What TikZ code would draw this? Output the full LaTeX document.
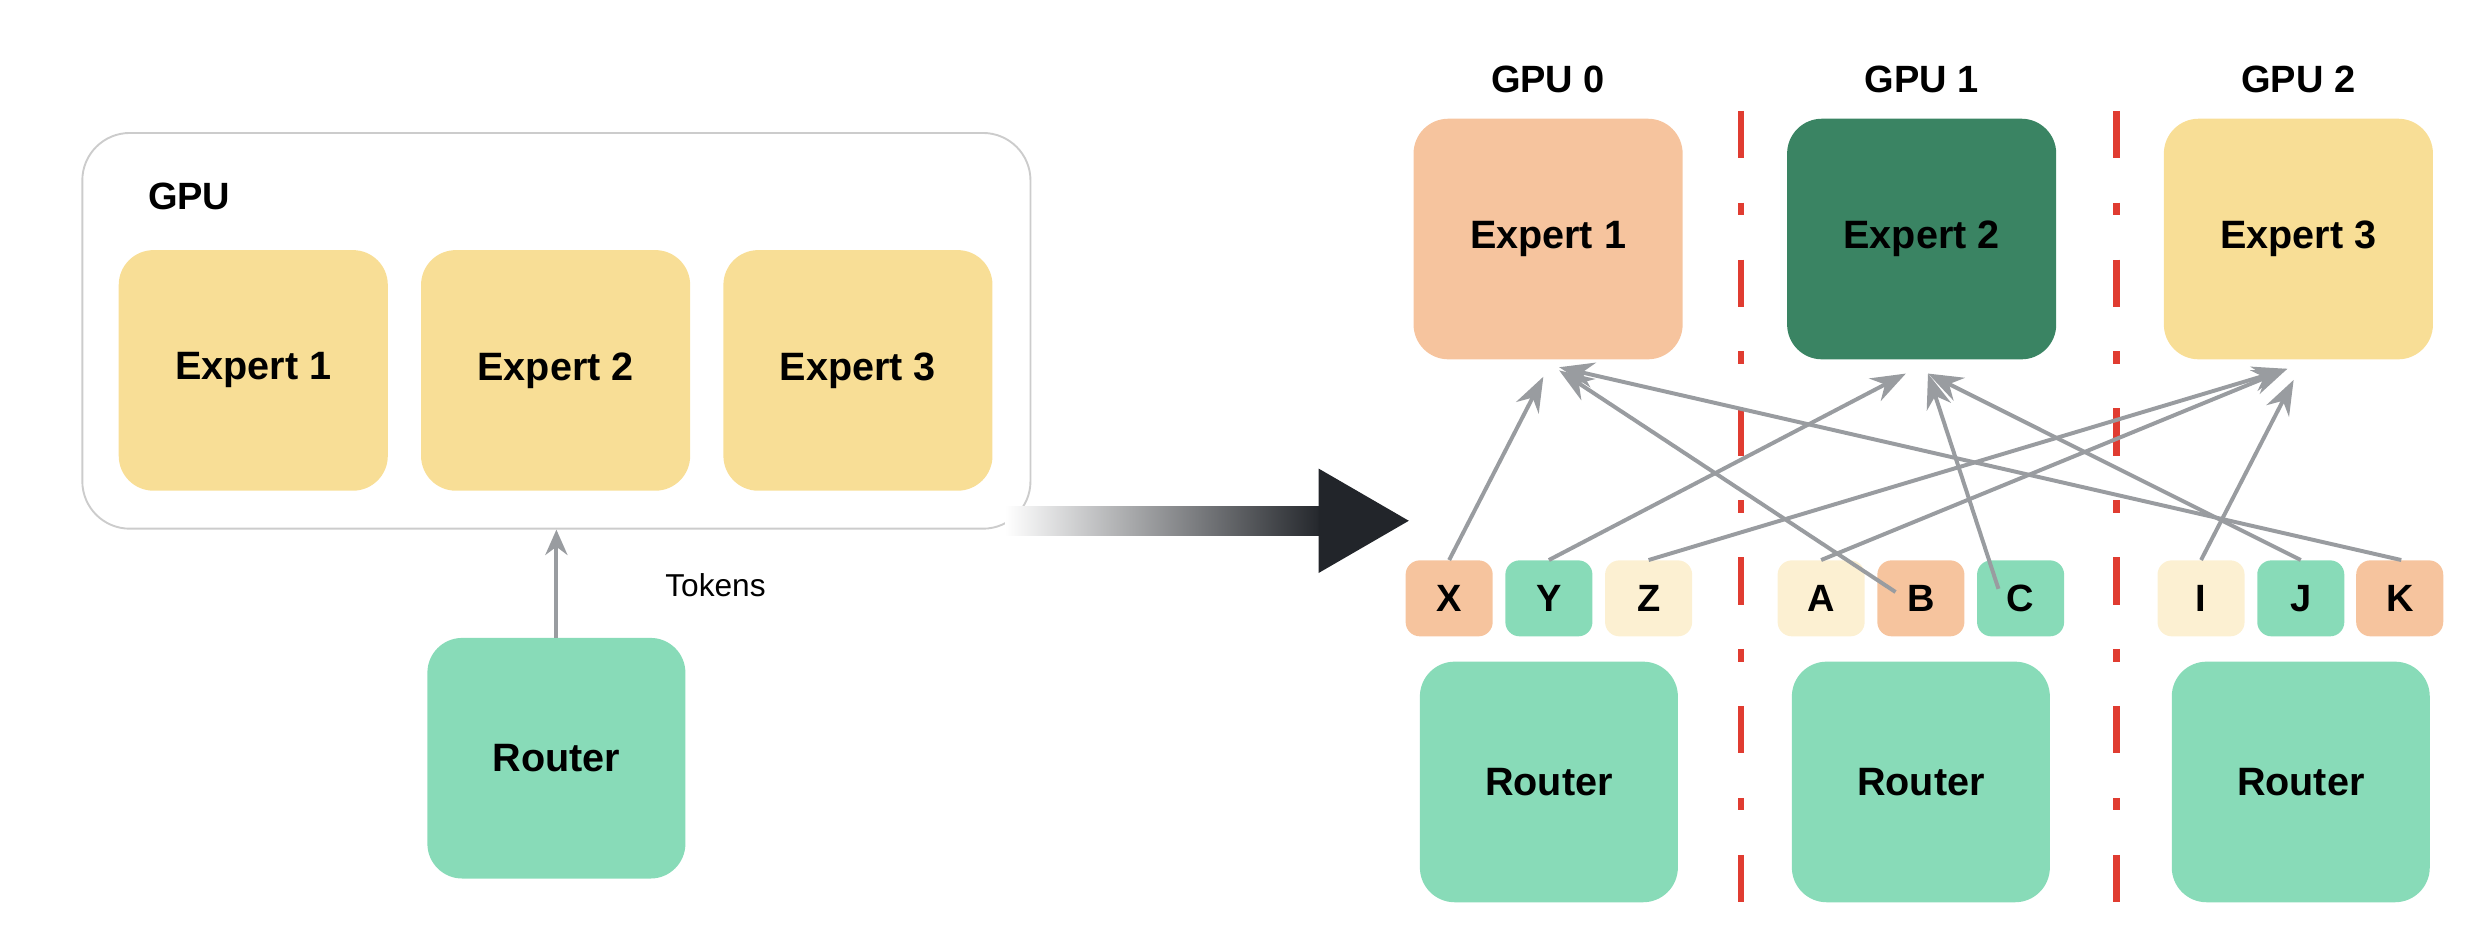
\documentclass[tikz,border=0pt]{standalone}
\usepackage{fontspec}
\setmainfont{Liberation Sans}
\usetikzlibrary{arrows.meta}
\definecolor{yel}{HTML}{F8DE96}
\definecolor{org}{HTML}{F6C49E}
\definecolor{grn}{HTML}{88DBB8}
\definecolor{dgrn}{HTML}{3A8463}
\definecolor{crm}{HTML}{FCF0D2}
\definecolor{gr}{HTML}{999CA0}
\definecolor{rd}{HTML}{E03C31}
\definecolor{drk}{HTML}{22252A}
\begin{document}
\begin{tikzpicture}[x=1pt,y=-1pt,
 box/.style={draw=none,rounded corners=22pt,minimum width=170pt,minimum height=152pt,font=\fontsize{25}{30}\selectfont\bfseries,inner sep=0},
 tok/.style={draw=none,rounded corners=9pt,minimum width=55pt,minimum height=48pt,font=\fontsize{24}{28}\selectfont\bfseries,inner sep=0},
 lab/.style={font=\fontsize{24}{28}\selectfont\bfseries},
 con/.style={draw=gr,line width=2.5pt,-{Stealth[length=22pt,width=16pt]}},
 sep/.style={draw=rd,line width=4pt,dash pattern=on 30pt off 28pt on 8pt off 28pt}]
\useasboundingbox (0,0) rectangle (1568,591);
% left
\node[draw=gray!40,line width=1.2pt,rounded corners=30pt,minimum width=599pt,minimum height=250pt] (gpu) at (351.5,209) {};
\node[lab,anchor=west] (gl) at (90,124) {GPU};
\node[box,fill=yel] (le1) at (160,234) {Expert 1};
\node[box,fill=yel] (le2) at (351,234) {Expert 2};
\node[box,fill=yel] (le3) at (542,234) {Expert 3};
\node[box,fill=grn,minimum width=163pt] (lr) at (351.5,479) {Router};
\draw[con,-{Stealth[length=16pt,width=14pt]}] (lr.north) -- (lr.north |- gpu.south);
\node[font=\fontsize{20}{24}\selectfont] (tk) at (452,370) {Tokens};
% big arrow
\shade[left color=white,right color=drk] (635,320) rectangle (836,338);
\fill[drk] (833,296) -- (890,329) -- (833,362) -- cycle;
\coordinate (ba) at (890,329);
% right
\node[lab] (g0) at (978,50) {GPU 0};
\node[lab] (g1) at (1214,50) {GPU 1};
\node[lab] (g2) at (1452,50) {GPU 2};
\node[box,fill=org] (e1) at (978,151) {Expert 1};
\node[box,fill=dgrn] (e2) at (1214,151) {Expert 2};
\node[box,fill=yel] (e3) at (1452,151) {Expert 3};
\foreach \n/\x/\c in {X/915.5/org,Y/978.5/grn,Z/1041.5/crm,A/1150.5/crm,B/1213.5/org,C/1276.5/grn,I/1390.5/crm,J/1453.5/grn,K/1516/org}
  \node[tok,fill=\c] (\n) at (\x,378) {\n};
\foreach \n/\x in {r0/978.5,r1/1213.5,r2/1453.5}
  \node[box,fill=grn,minimum width=163pt] (\n) at (\x,494) {Router};
\coordinate (s1a) at (1100,70); \coordinate (s1b) at (1100,570);
\coordinate (s2a) at (1337,70); \coordinate (s2b) at (1337,570);
\draw[sep] (s1a) -- (s1b);
\draw[sep] (s2a) -- (s2b);
\draw[con] (X.north) -- (975,238);
\draw[con] ([xshift=-16pt,yshift=4pt]B.center) -- (985,234);
\draw[con] ([xshift=1pt]K.north) -- (985,232);
\draw[con] (Y.north) -- (1204,236);
\draw[con] ([xshift=-14pt,yshift=6pt]C.center) -- (1218,236);
\draw[con] (J.north) -- (1218,236);
\draw[con] (Z.north) -- (1445,233);
\draw[con] (A.north) -- (1445,233);
\draw[con] (I.north) -- (1449,240);
\end{tikzpicture}
\end{document}
